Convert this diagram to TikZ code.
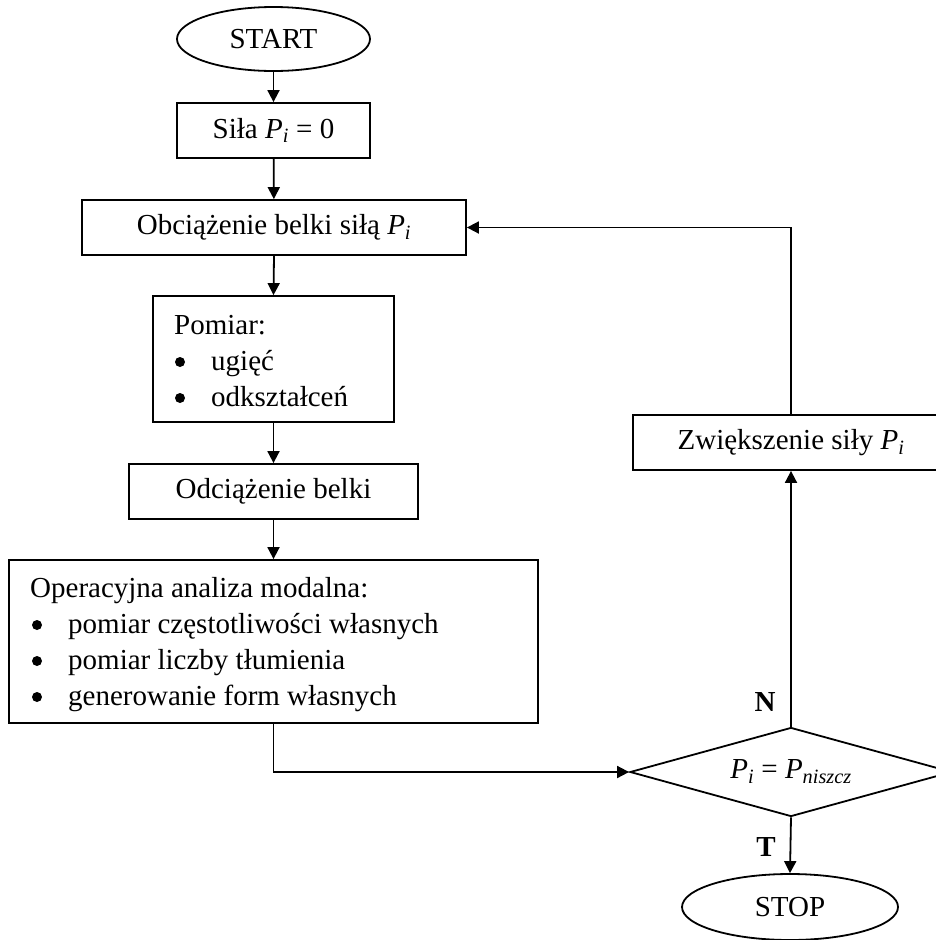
\documentclass[tikz,border=0pt]{standalone}
\usepackage{fontspec}
\setmainfont{Liberation Serif}
\usetikzlibrary{shapes.geometric,arrows.meta}
\begin{document}
\begin{tikzpicture}[x=1pt,y=-1pt,
  every node/.style={font=\fontsize{29}{36}\selectfont},
  box/.style={draw, line width=1.8pt, inner sep=0pt},
  arr/.style={line width=1.8pt, -{Triangle[length=12pt,width=12pt]}},
  lbl/.style={inner sep=0pt, anchor=base west},
  blt/.style={fill=black}]
\useasboundingbox (0,0) rectangle (936,940);
\clip (0,0) rectangle (936,940);
\node[box, ellipse, minimum width=193pt, minimum height=64pt] (start) at (273.5,39) {START};
\node[box, minimum width=193pt, minimum height=55pt] (sila) at (273.5,130.5) {Siła \textit{P}\textsubscript{\textit{i}} = 0};
\node[box, minimum width=384pt, minimum height=55pt] (obc) at (274,227.5) {Obciążenie belki siłą \textit{P}\textsubscript{\textit{i}}};
\node[box, minimum width=241pt, minimum height=126pt] (pom) at (273.5,359) {};
\node[lbl] (pomt) at (174,334) {\parbox[t]{215pt}{Pomiar:\\\hspace*{37pt}ugięć\\\hspace*{37pt}odkształceń}};
\fill[blt] (180,362) circle (5pt);
\fill[blt] (180,398) circle (5pt);
\node[box, minimum width=289pt, minimum height=55pt] (odc) at (273.5,491.5) {Odciążenie belki};
\node[box, minimum width=529pt, minimum height=163pt] (oper) at (273.5,641.5) {};
\node[lbl] (opert) at (30,597) {\parbox[t]{500pt}{Operacyjna analiza modalna:\\\hspace*{38pt}pomiar częstotliwości własnych\\\hspace*{38pt}pomiar liczby tłumienia\\\hspace*{38pt}generowanie form własnych}};
\fill[blt] (37,625) circle (5pt);
\fill[blt] (37,661) circle (5pt);
\fill[blt] (37,697) circle (5pt);
\node[box, minimum width=316pt, minimum height=55pt] (zw) at (791,442.5) {Zwiększenie siły \textit{P}\textsubscript{\textit{i}}};
\node[box, diamond, aspect=3.62, minimum width=322pt, minimum height=89pt] (dia) at (791,772) {\textit{P}\textsubscript{\textit{i}} = \textit{P}\textsubscript{\textit{niszcz}}};
\node[box, ellipse, minimum width=216pt, minimum height=66pt] (stop) at (790,907) {STOP};
\node[inner sep=0pt] (nlab) at (765,702) {\textbf{N}};
\node[inner sep=0pt] (tlab) at (766,847) {\textbf{T}};
\draw[arr] (start) -- (sila);
\draw[arr] (sila) -- (obc);
\draw[arr] (obc.south) -- (pom.north);
\draw[arr] (pom) -- (odc);
\draw[arr] (odc) -- (oper);
\draw[arr] (oper.south) |- (dia.west);
\draw[arr] (dia.north) -- (zw.south);
\draw[arr] (zw.north) |- (obc.east);
\draw[arr] (dia.south) -- (stop.north);
\end{tikzpicture}
\end{document}
